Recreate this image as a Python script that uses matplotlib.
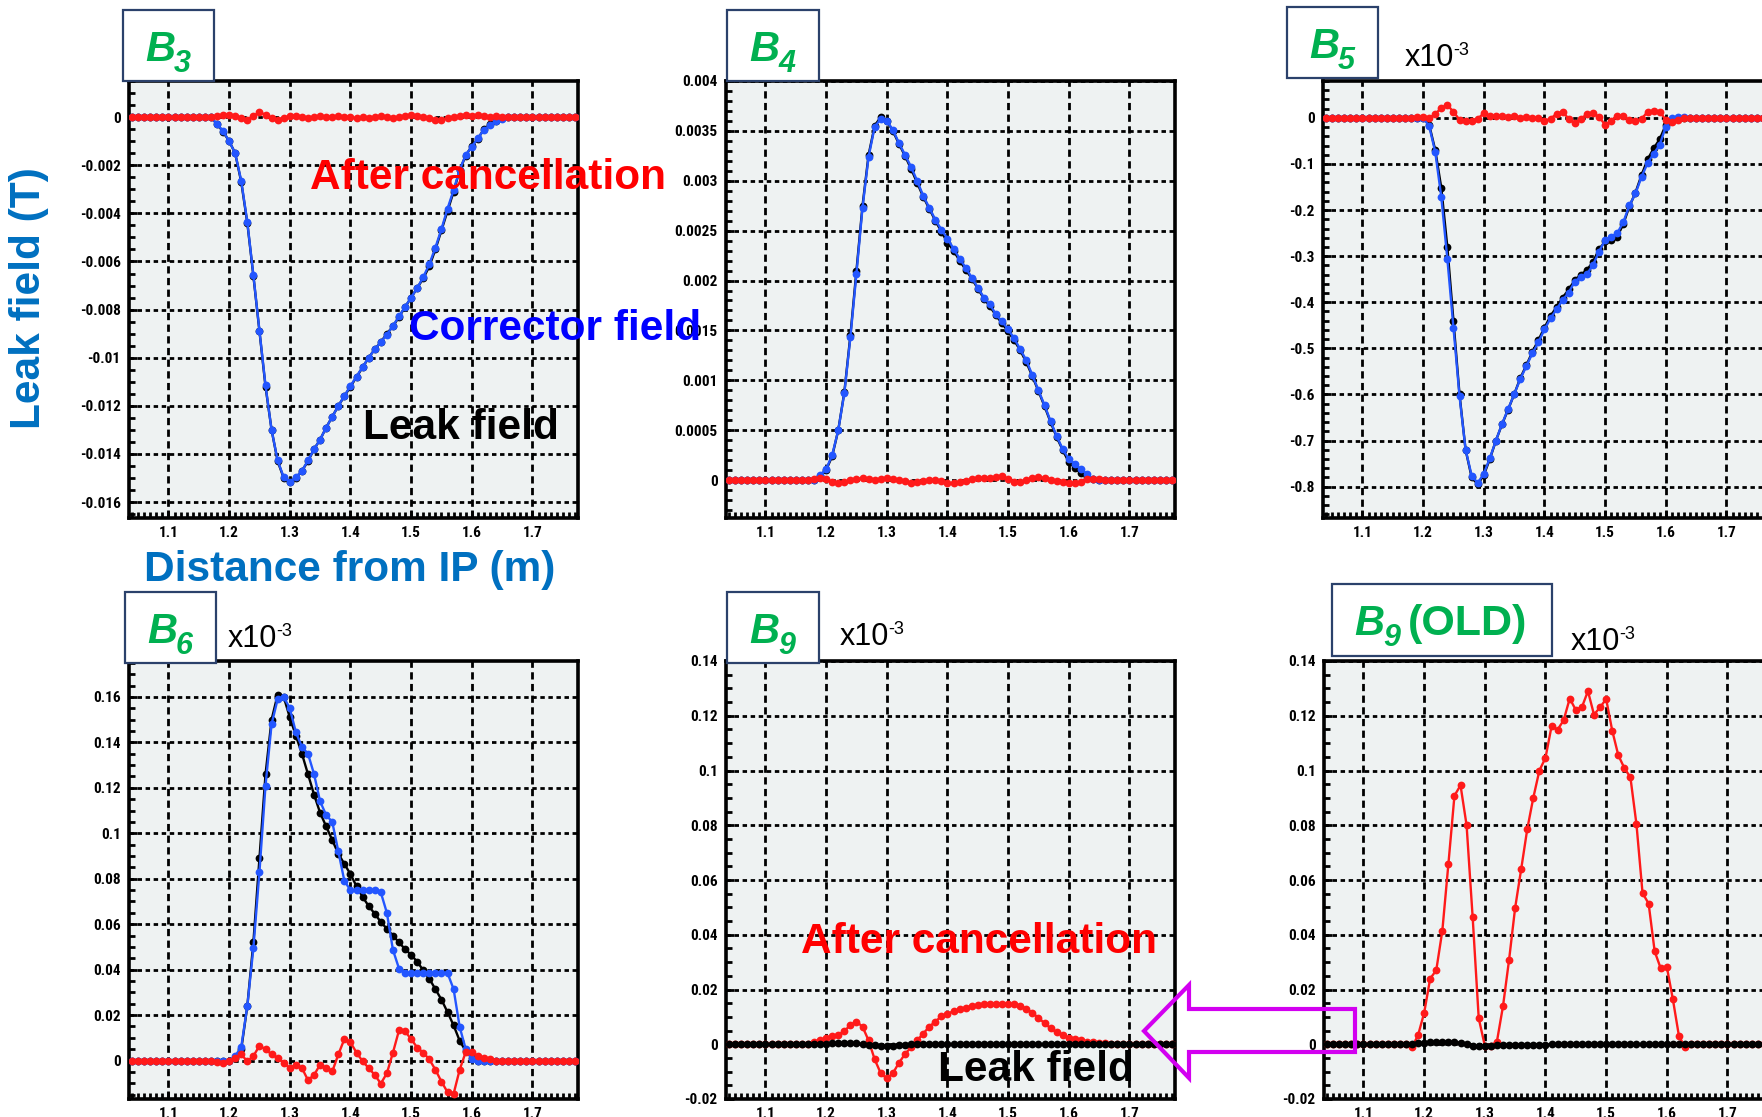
import matplotlib
matplotlib.use("Agg")
import matplotlib.pyplot as plt
import numpy as np
from matplotlib.patches import Polygon, Rectangle
from matplotlib.ticker import FuncFormatter, MultipleLocator

W, H = 1762, 1117

# sampling positions along the beam line (m)
position = np.round(np.arange(1.04, 1.785, 0.01), 2)

# ---- B3 (T) ----
b3_leak = [
    0, 0, 0, 0, 0, 0,
    0, 0, 0, 0, 0, 0, 0, 0, -0.0003, -0.0006,
    -0.001, -0.0015, -0.0027, -0.0044, -0.0066, -0.0089, -0.0112, -0.0130, -0.0143, -0.0150,
    -0.01515, -0.0150, -0.0147, -0.0143, -0.0138, -0.0134, -0.0129, -0.01245, -0.0120, -0.0116,
    -0.0112, -0.0108, -0.0104, -0.0100, -0.00965, -0.00935, -0.0090, -0.0087, -0.0083, -0.0079,
    -0.0075, -0.0071, -0.0067, -0.0062, -0.0055, -0.0047, -0.0039, -0.0031, -0.0022, -0.0016,
    -0.0012, -0.0009, -0.0005, -0.0003, -0.00015, -0.00005, 0, 0, 0, 0,
    0, 0, 0, 0, 0, 0, 0, 0, 0,
]
b3_corrector = [
    0, 0, 0, 0, 0, 0,
    0, 0, 0, 0, 0, 0, 0, 0, -0.0003, -0.00057,
    -0.001, -0.0015, -0.00265, -0.00436, -0.00657, -0.00887, -0.01115, -0.0130, -0.01427, -0.01497,
    -0.01515, -0.01497, -0.0147, -0.01427, -0.0138, -0.0134, -0.0129, -0.01245, -0.0120, -0.01158,
    -0.01117, -0.01078, -0.01038, -0.0100, -0.00965, -0.00935, -0.00904, -0.00868, -0.00828, -0.00788,
    -0.0075, -0.0071, -0.00665, -0.00611, -0.00542, -0.00465, -0.0038, -0.00303, -0.00219, -0.00157,
    -0.00123, -0.00088, -0.00052, -0.00034, -0.00018, -0.00006, 0, 0, 0, 0,
    0, 0, 0, 0, 0, 0, 0, 0, 0,
]
b3_after = [
    0, 0, 0, 0, 0, 0,
    0, 0, 0, 0, 0, 0, 0, 0, 0.00005, 0.0001,
    0.0001, 0.00005, -0.00005, -0.0001, 0.00005, 0.0002, 0.0001, -0.00005, -0.0001, -0.00005,
    0.00005, 0.00005, 0, -0.00005, 0, 0.00005, 0, 0, 0.00005, 0,
    0, -0.00005, 0, -0.00005, 0, 0.00005, 0, -0.00005, 0, 0.00005,
    0.0001, 0.00005, 0, -0.00005, -0.0001, -0.0001, -0.00005, 0, 0.00005, 0.0001,
    0.00005, 0.0001, 0.00005, 0, 0.00005, 0, 0, 0, 0, 0,
    0, 0, 0, 0, 0, 0, 0, 0, 0,
]

# ---- B4 (T) ----
b4_leak = [
    0, 0, 0, 0, 0, 0,
    0, 0, 0, 0, 0, 0, 0, 0, 0, 0.00004,
    0.0001, 0.00024, 0.0005, 0.00088, 0.00145, 0.0021, 0.00275, 0.00326, 0.00355, 0.00364,
    0.0036, 0.0035, 0.00337, 0.00325, 0.00312, 0.00298, 0.00284, 0.00272, 0.0026, 0.00249,
    0.00238, 0.0023, 0.0022, 0.00211, 0.00202, 0.00192, 0.00182, 0.00174, 0.00165, 0.00157,
    0.00149, 0.0014, 0.0013, 0.00118, 0.00104, 0.00089, 0.00074, 0.00058, 0.00043, 0.0003,
    0.00018, 0.00012, 0.00007, 0.00003, 0.00001, 0, 0, 0, 0, 0,
    0, 0, 0, 0, 0, 0, 0, 0, 0,
]
b4_corrector = [
    0, 0, 0, 0, 0, 0,
    0, 0, 0, 0, 0, 0, 0, 0, 0, 0.00005,
    0.00011, 0.00025, 0.0005, 0.00087, 0.00143, 0.00207, 0.00273, 0.00324, 0.00354, 0.00362,
    0.0036, 0.00351, 0.00338, 0.00326, 0.00314, 0.0030, 0.00285, 0.00273, 0.00261, 0.00251,
    0.00242, 0.00232, 0.00222, 0.00213, 0.00203, 0.00193, 0.00183, 0.00176, 0.00166, 0.00159,
    0.00151, 0.00142, 0.00131, 0.0012, 0.00105, 0.0009, 0.00075, 0.00059, 0.00044, 0.00031,
    0.00021, 0.00016, 0.00011, 0.00006, 0.00001, 0, 0, 0, 0, 0,
    0, 0, 0, 0, 0, 0, 0, 0, 0,
]
b4_after = [
    0, 0, 0, 0, 0, 0,
    0, 0, 0, 0, 0, 0, 0, 0, 0.00001, 0.00002,
    0.00001, -0.00002, -0.00003, -0.00002, 0, 0.00001, 0.00002, 0.00001, 0, 0.00001,
    0.00002, 0.00001, 0, -0.00001, -0.00003, -0.00002, -0.00001, 0, 0, -0.00001,
    -0.00003, -0.00003, -0.00002, -0.00001, 0.00001, 0.00002, 0.00002, 0.00002, 0.00003, 0.00004,
    0.00001, -0.00002, -0.00002, 0, 0.00002, 0.00003, 0.00002, 0, -0.00001, -0.00002,
    -0.00003, -0.00003, -0.00002, 0.00001, 0.00001, 0.00001, 0, 0, 0, 0,
    0, 0, 0, 0, 0, 0, 0, 0, 0,
]

# ---- B5 (x10^-3 T) ----
b5_leak = [
    0, 0, 0, 0, 0, 0,
    0, 0, 0, 0, 0, 0, 0, 0, 0, 0,
    0, -0.015, -0.07, -0.152, -0.281, -0.44, -0.6, -0.72, -0.78, -0.795,
    -0.775, -0.74, -0.70, -0.665, -0.633, -0.600, -0.565, -0.537, -0.508, -0.482,
    -0.455, -0.43, -0.41, -0.39, -0.372, -0.352, -0.34, -0.33, -0.312, -0.285,
    -0.268, -0.265, -0.258, -0.23, -0.192, -0.162, -0.124, -0.09, -0.066, -0.046,
    -0.015, -0.003, 0, 0, 0, 0, 0, 0, 0, 0,
    0, 0, 0, 0, 0, 0, 0, 0, 0,
]
b5_corrector = [
    0, 0, 0, 0, 0, 0,
    0, 0, 0, 0, 0, 0, 0, 0, 0, 0,
    0, -0.018, -0.074, -0.172, -0.307, -0.455, -0.604, -0.72, -0.776, -0.792,
    -0.772, -0.738, -0.70, -0.664, -0.632, -0.600, -0.567, -0.539, -0.511, -0.487,
    -0.459, -0.435, -0.415, -0.395, -0.379, -0.355, -0.345, -0.339, -0.319, -0.29,
    -0.265, -0.258, -0.25, -0.226, -0.19, -0.164, -0.128, -0.098, -0.078, -0.058,
    -0.019, 0, 0.002, 0.002, 0, 0, 0, 0, 0, 0,
    0, 0, 0, 0, 0, 0, 0, 0, 0,
]
b5_after = [
    0, 0, 0, 0, 0, 0,
    0, 0, 0, 0, 0, 0, 0, 0, 0, 0.002,
    0.002, 0.0, 0.008, 0.022, 0.028, 0.013, -0.004, -0.007, -0.006, -0.002,
    0.01, 0.004, 0.003, 0.004, 0.002, 0.003, 0.0, 0.002, -0.001, 0.0,
    -0.006, -0.002, 0.009, 0.013, -0.002, -0.012, -0.002, 0.008, 0.01, 0.002,
    -0.015, -0.006, 0.005, 0.004, -0.005, -0.006, -0.002, 0.013, 0.016, 0.013,
    -0.004, -0.008, -0.004, -0.001, 0, 0, 0, 0, 0, 0,
    0, 0, 0, 0, 0, 0, 0, 0, 0,
]

# ---- B6 (x10^-3 T) ----
b6_leak = [
    0, 0, 0, 0, 0, 0,
    0, 0, 0, 0, 0, 0, 0, 0, 0, 0,
    0, 0.001, 0.005, 0.024, 0.052, 0.089, 0.126, 0.15, 0.161, 0.16,
    0.151, 0.143, 0.135, 0.126, 0.117, 0.109, 0.103, 0.097, 0.091, 0.0865,
    0.082, 0.0767, 0.072, 0.068, 0.0646, 0.061, 0.058, 0.055, 0.052, 0.049,
    0.0465, 0.0435, 0.0397, 0.036, 0.0314, 0.0268, 0.0213, 0.0155, 0.0087, 0.0042,
    0.0012, 0, 0, 0, 0, 0, 0, 0, 0, 0,
    0, 0, 0, 0, 0, 0, 0, 0, 0,
]
b6_corrector = [
    0, 0, 0, 0, 0, 0,
    0, 0, 0, 0, 0, 0, 0, 0, 0, 0,
    0, 0.002, 0.006, 0.024, 0.0495, 0.083, 0.121, 0.148, 0.159, 0.16,
    0.155, 0.1445, 0.138, 0.135, 0.126, 0.114, 0.108, 0.105, 0.092, 0.079,
    0.075, 0.075, 0.075, 0.075, 0.075, 0.074, 0.065, 0.0487, 0.0405, 0.0385,
    0.0385, 0.0385, 0.0385, 0.0385, 0.0385, 0.0385, 0.0385, 0.0314, 0.0148, 0.005,
    0.0005, 0, 0, 0, 0, 0, 0, 0, 0, 0,
    0, 0, 0, 0, 0, 0, 0, 0, 0,
]
b6_after = [
    0, 0, 0, 0, 0, 0,
    0, 0, 0, 0, 0, 0, 0, 0, -0.0008, -0.001,
    -0.0003, 0.0012, 0.0027, -0.0003, 0.002, 0.0065, 0.005, 0.0027, 0.0012, -0.001,
    -0.0033, -0.0018, -0.0033, -0.0086, -0.0063, -0.0018, -0.0033, -0.0048, 0.0027, 0.0095,
    0.008, 0.0035, -0.0003, -0.0033, -0.0063, -0.0101, -0.0056, 0.0035, 0.0133, 0.0128,
    0.0095, 0.0057, 0.0035, 0.0005, -0.004, -0.0093, -0.0139, -0.0146, -0.004, 0.0038,
    0.0038, 0.002, 0.0012, 0.0005, 0, 0, 0, 0, 0, 0,
    0, 0, 0, 0, 0, 0, 0, 0, 0,
]

# ---- B9 (x10^-3 T) ----
b9_leak = [
    0, 0, 0, 0, 0, 0,
    0, 0, 0, 0, 0, 0, 0, 0, 0, 0,
    0.0002, 0.0003, 0.0004, 0.0005, 0.0004, 0.0003, 0.0002, -0.0001, -0.0004, -0.0006,
    -0.0006, -0.0005, -0.0003, -0.0001, 0, 0, 0, 0, 0, 0,
    0, 0, 0, 0, 0, 0, 0, 0, 0, 0,
    0, 0, 0, 0, 0, 0, 0, 0, 0, 0,
    0, 0, 0, 0, 0, 0, 0, 0, 0, 0,
    0, 0, 0, 0, 0, 0, 0, 0, 0,
]
b9_after = [
    0, 0, 0, 0, 0, 0,
    0, 0, 0, 0, 0, 0, 0, 0, 0.0008, 0.0014,
    0.0023, 0.0029, 0.0035, 0.0048, 0.007, 0.0083, 0.0064, 0.0014, -0.0055, -0.0106,
    -0.0125, -0.0106, -0.0068, -0.0036, -0.0011, 0.0014, 0.0039, 0.0064, 0.0083, 0.0102,
    0.0111, 0.0121, 0.0127, 0.0133, 0.014, 0.0143, 0.0146, 0.0148, 0.0148, 0.0148,
    0.0148, 0.0146, 0.014, 0.013, 0.0115, 0.0096, 0.0077, 0.0058, 0.0043, 0.0033,
    0.0023, 0.0018, 0.0014, 0.001, 0.0008, 0.0005, 0.0003, 0, 0, 0,
    0, 0, 0, 0, 0, 0, 0, 0, 0,
]

# ---- B9 old design (x10^-3 T) ----
b9_old_leak = [
    0, 0, 0, 0, 0, 0,
    0, 0, 0, 0, 0, 0, 0, 0, 0, 0.0003,
    0.0006, 0.0008, 0.0008, 0.0009, 0.0009, 0.0008, 0.0006, 0.0001, -0.0006, -0.0008,
    -0.0008, -0.0006, -0.0003, -0.0002, -0.0002, -0.0002, -0.0002, -0.0001, -0.0001, -0.0001,
    -0.0001, 0, 0, 0, 0, 0, 0, 0, 0, 0,
    0, 0, 0, 0, 0, 0, 0, 0, 0, 0,
    0, 0, 0, 0, 0, 0, 0, 0, 0, 0,
    0, 0, 0, 0, 0, 0, 0, 0, 0,
]
b9_old_after = [
    0, 0, 0, 0, 0, 0,
    0, 0, 0, 0, 0, 0, 0, 0, -0.0011, 0.0033,
    0.0114, 0.024, 0.027, 0.0414, 0.0658, 0.0908, 0.0946, 0.08, 0.0464, 0.0095,
    -0.0005, -0.0005, 0.001, 0.0139, 0.0308, 0.0498, 0.064, 0.0786, 0.0901, 0.1,
    0.1046, 0.1161, 0.1149, 0.1184, 0.1263, 0.1221, 0.1231, 0.129, 0.1204, 0.1231,
    0.1261, 0.1146, 0.1056, 0.1009, 0.0975, 0.0803, 0.0552, 0.0514, 0.0339, 0.0277,
    0.0283, 0.0164, 0.003, -0.0011, 0, 0, 0, 0, 0, 0,
    0, 0, 0, 0, 0, 0, 0, 0, 0,
]

GREEN = "#00b050"
AXIS_BLUE = "#0070c0"
LINE_BLUE = "#2356ff"
RED = "#ff1a1a"
TICK_FONT = ["Liberation Sans Narrow", "Roboto Condensed", "Open Sans Condensed", "Liberation Sans"]
TEXT_FONT = ["Liberation Sans", "DejaVu Sans"]


def px(x):
    return x / W


def py(y):
    return 1 - y / H


def fmt(value, _pos):
    value = round(value, 8)
    if abs(value) < 1e-12:
        return "0"
    return "%g" % value


fig = plt.figure(figsize=(W / 100, H / 100), dpi=100)


def make_axes(left, top, bottom, ylim, ymajor, yminor):
    ax = fig.add_axes([px(left), py(bottom), 449 / W, (bottom - top) / H])
    ax.set_facecolor("#eef2f2")
    ax.set_xlim(1.035, 1.775)
    ax.set_ylim(*ylim)
    ax.xaxis.set_major_locator(MultipleLocator(0.1))
    ax.xaxis.set_minor_locator(MultipleLocator(0.01))
    ax.yaxis.set_major_locator(MultipleLocator(ymajor))
    ax.yaxis.set_minor_locator(MultipleLocator(yminor))
    ax.xaxis.set_major_formatter(FuncFormatter(fmt))
    ax.yaxis.set_major_formatter(FuncFormatter(fmt))
    ax.tick_params(which="both", direction="in", width=2.0, colors="black", pad=6,
                   top=False, right=False)
    ax.tick_params(which="major", length=6)
    ax.tick_params(which="minor", length=4.5)
    for label in ax.get_xticklabels() + ax.get_yticklabels():
        label.set_family(TICK_FONT)
        label.set_fontstretch("condensed")
        label.set_fontweight("bold")
        label.set_fontsize(11)
    ax.xaxis.grid(True, which="major", color="black", linewidth=2.0, linestyle=(0, (2.6, 1.6)))
    ax.yaxis.grid(True, which="major", color="black", linewidth=2.0, linestyle=(0, (1.6, 1.3)))
    ax.set_axisbelow(True)
    for spine in ax.spines.values():
        spine.set_linewidth(2.6)
        spine.set_color("black")
    return ax


def plot_series(ax, values, color, zorder):
    ax.plot(position, values, color=color, linewidth=1.7, marker="o", markersize=5.6,
            markeredgewidth=0, zorder=zorder)


ax_b3 = make_axes(129, 81, 518, (-0.01666, 0.0015), 0.002, 0.0005)
plot_series(ax_b3, b3_leak, "black", 3)
plot_series(ax_b3, b3_corrector, LINE_BLUE, 4)
plot_series(ax_b3, b3_after, RED, 5)

ax_b4 = make_axes(726, 81, 518, (-0.00038, 0.004), 0.0005, 0.0001)
plot_series(ax_b4, b4_leak, "black", 3)
plot_series(ax_b4, b4_corrector, LINE_BLUE, 4)
plot_series(ax_b4, b4_after, RED, 5)

ax_b5 = make_axes(1323, 81, 518, (-0.868, 0.08), 0.1, 0.02)
plot_series(ax_b5, b5_leak, "black", 3)
plot_series(ax_b5, b5_corrector, LINE_BLUE, 4)
plot_series(ax_b5, b5_after, RED, 5)

ax_b6 = make_axes(129, 661, 1099, (-0.0169, 0.1758), 0.02, 0.005)
plot_series(ax_b6, b6_leak, "black", 3)
plot_series(ax_b6, b6_corrector, LINE_BLUE, 4)
plot_series(ax_b6, b6_after, RED, 5)

ax_b9 = make_axes(726, 661, 1099, (-0.02, 0.14), 0.02, 0.005)
plot_series(ax_b9, b9_after, RED, 3)
plot_series(ax_b9, b9_leak, "black", 4)

ax_b9_old = make_axes(1324, 661, 1099, (-0.02, 0.14), 0.02, 0.005)
plot_series(ax_b9_old, b9_old_after, RED, 3)
plot_series(ax_b9_old, b9_old_leak, "black", 4)


def label_box(x0, y0, x1, y1, sub, extra=""):
    fig.add_artist(Rectangle((px(x0), py(y1)), (x1 - x0) / W, (y1 - y0) / H,
                             transform=fig.transFigure, facecolor="white",
                             edgecolor="#2b416b", linewidth=1.6, zorder=5))
    bx = x0 + 22
    fig.text(px(bx), py(y0 + 51), "B", family=TEXT_FONT, fontsize=30, fontweight="bold",
             fontstyle="italic", color=GREEN, va="baseline", ha="left", zorder=6)
    fig.text(px(bx + 29), py(y0 + 62), sub, family=TEXT_FONT, fontsize=22, fontweight="bold",
             fontstyle="italic", color=GREEN, va="baseline", ha="left", zorder=6)
    if extra:
        fig.text(px(bx + 54), py(y0 + 51), extra, family=TEXT_FONT, fontsize=31,
                 fontweight="bold", color=GREEN, va="baseline", ha="left", zorder=6)


def scale_note(x, y):
    fig.text(px(x), py(y), "x10", family=TEXT_FONT, fontsize=22, color="black",
             va="baseline", ha="left", zorder=6)
    fig.text(px(x + 48), py(y - 11), "-3", family=TEXT_FONT, fontsize=13, color="black",
             va="baseline", ha="left", zorder=6)


label_box(123, 10, 214, 81, "3")
label_box(727, 10, 819, 81, "4")
label_box(1287, 7, 1378, 78, "5")
label_box(125, 592, 216, 663, "6")
label_box(727, 592, 819, 663, "9")
label_box(1332, 584, 1552, 656, "9", "(OLD)")

scale_note(1405, 66)
scale_note(228, 647)
scale_note(840, 645)
scale_note(1571, 650)

big = dict(family=TEXT_FONT, fontsize=30.5, fontweight="bold", va="baseline", ha="left", zorder=7)
fig.text(px(310), py(189), "After cancellation", color="#ff0000", **big)
fig.text(px(409), py(340), "Corrector field", color="#0000ff", **big)
fig.text(px(363), py(439), "Leak field", color="black", **big)
fig.text(px(801), py(953), "After cancellation", color="#ff0000", **big)
fig.text(px(938), py(1081), "Leak field", color="black", **big)

fig.text(px(29), py(298), "Leak field (T)", family=TEXT_FONT, fontsize=30.5, fontweight="bold",
         color=AXIS_BLUE, rotation=90, ha="center", va="center")
fig.text(px(350), py(581), "Distance from IP (m)", family=TEXT_FONT, fontsize=30.5,
         fontweight="bold", color=AXIS_BLUE, ha="center", va="baseline")

# hollow arrow pointing from B9(OLD) back to B9
arrow_px = [(1144, 1031), (1189, 985), (1189, 1009), (1355, 1009),
            (1355, 1052), (1189, 1052), (1189, 1078)]
fig.add_artist(Polygon([(px(x), py(y)) for x, y in arrow_px], closed=True, fill=False,
                       edgecolor="#d200f0", linewidth=3.0, transform=fig.transFigure, zorder=8))

fig.savefig("out.png", dpi=100)
